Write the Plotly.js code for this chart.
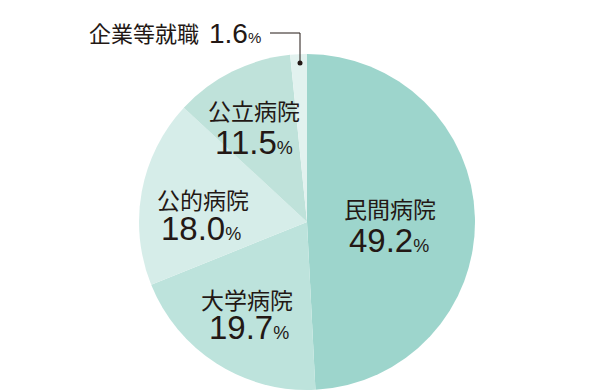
<!DOCTYPE html>
<html><head><meta charset="utf-8">
<script src="https://cdn.plot.ly/plotly-3.0.1.min.js"></script>
<style>html,body{margin:0;padding:0;background:#fff}#chart{width:615px;height:391px}</style>
</head><body><div id="chart"></div>
<script>
const categories = ["民間病院", "大学病院", "公的病院", "公立病院", "企業等就職"];
const values = [49.2, 19.7, 18.0, 11.5, 1.6];
const colors = ["#9dd5cc", "#bde3dc", "#d6ede9", "#bfe2da", "#e2f2ef"];

const W = 615, H = 391;
const cx = 307, cy = 222, R = 168;
const px = (x) => x / W;
const py = (y) => 1 - y / H;

const numFont = "Liberation Sans";
const jpFont = "Noto Sans CJK JP";
const ink = "#231815";

function numText(i, big, small) {
  return `${values[i].toFixed(1)}<span style="font-size:${small}px"> %</span>`;
}

// [nameX, nameY, numX, numY]
const labelPos = [
  [390, 208, 389, 240],
  [247, 299, 249, 327],
  [203, 199, 201, 228],
  [254, 110, 254, 142]
];
const annotations = [];
labelPos.forEach((p, i) => {
  annotations.push({
    x: px(p[0]), y: py(p[1]), xref: "paper", yref: "paper",
    text: categories[i], showarrow: false, xanchor: "center", yanchor: "middle",
    font: {color: ink, family: jpFont, size: 23}
  });
  annotations.push({
    x: px(p[2]), y: py(p[3]), xref: "paper", yref: "paper",
    text: `${values[i].toFixed(1)}<span style="font-size:18px">%</span>`,
    showarrow: false, xanchor: "center", yanchor: "middle",
    font: {color: ink, family: numFont, size: 33}
  });
});
annotations.push({
  x: px(87), y: py(32), xref: "paper", yref: "paper",
  text: categories[4], showarrow: false, xanchor: "left", yanchor: "middle",
  font: {color: ink, family: jpFont, size: 22}
});
annotations.push({
  x: px(207), y: py(34), xref: "paper", yref: "paper",
  text: `${values[4].toFixed(1)}<span style="font-size:15px">%</span>`,
  showarrow: false, xanchor: "left", yanchor: "middle",
  font: {color: ink, family: numFont, size: 28}
});

const data = [{
  type: "pie",
  labels: categories,
  values: values,
  sort: false,
  direction: "clockwise",
  rotation: 0,
  marker: {colors: colors, line: {width: 0}},
  textinfo: "none",
  hoverinfo: "label+percent",
  showlegend: false,
  domain: {x: [px(cx - R), px(cx + R)], y: [py(cy + R), py(cy - R)]}
}];

const layout = {
  width: W, height: H,
  margin: {l: 0, r: 0, t: 0, b: 0},
  paper_bgcolor: "#ffffff",
  showlegend: false,
  annotations: annotations,
  shapes: [
    {type: "line", xref: "paper", yref: "paper", x0: px(270), y0: py(33), x1: px(300), y1: py(33), line: {color: ink, width: 1}},
    {type: "line", xref: "paper", yref: "paper", x0: px(300), y0: py(33), x1: px(300), y1: py(63), line: {color: ink, width: 1}},
    {type: "circle", xref: "paper", yref: "paper", x0: px(297.5), y0: py(60.5), x1: px(302.5), y1: py(65.5), fillcolor: ink, line: {width: 0}}
  ]
};

Plotly.newPlot("chart", data, layout, {displayModeBar: false, staticPlot: true});
</script></body></html>
